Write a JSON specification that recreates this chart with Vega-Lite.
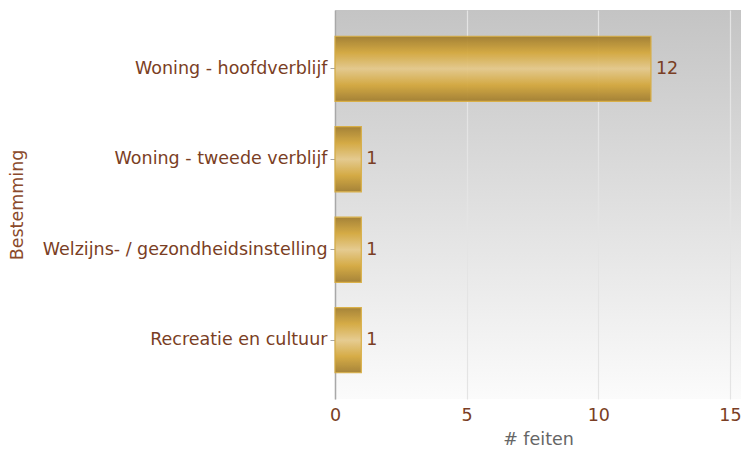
{
  "$schema": "https://vega.github.io/schema/vega-lite/v6.json",
  "width": 406,
  "height": 389,
  "autosize": {"type": "none"},
  "padding": {"left": 335, "top": 10, "right": 0, "bottom": 56},
  "background": "white",
  "config": {
    "view": {"stroke": null, "fill": {"gradient": "linear", "x1": 0, "y1": 0, "x2": 0, "y2": 1, "stops": [{"offset": 0, "color": "#c4c4c4"}, {"offset": 1, "color": "#fbfbfb"}]}},
    "font": "DejaVu Sans"
  },
  "data": {
    "values": [
      {"Bestemming": "Woning - hoofdverblijf", "feiten": 12},
      {"Bestemming": "Woning - tweede verblijf", "feiten": 1},
      {"Bestemming": "Welzijns- / gezondheidsinstelling", "feiten": 1},
      {"Bestemming": "Recreatie en cultuur", "feiten": 1}
    ]
  },
  "encoding": {
    "y": {
      "field": "Bestemming", "type": "nominal", "sort": null,
      "scale": {"paddingInner": 0.28, "paddingOuter": 0.29},
      "axis": {
        "title": "Bestemming", "titleFont": "DejaVu Sans", "titleFontSize": 17.5, "titleFontWeight": "normal", "titleColor": "#8b4a2b",
        "titleX": -318, "titleAngle": -90, "titleBaseline": "middle",
        "labelFont": "DejaVu Sans", "labelFontSize": 17.5, "labelColor": "#7a3e24", "labelPadding": 3,
        "domainColor": "#a8a8a8", "domainWidth": 1.5, "tickColor": "#a8a8a8", "tickSize": 5, "labelLimit": 400, "grid": false
      }
    },
    "x": {
      "field": "feiten", "type": "quantitative",
      "scale": {"domain": [0, 15.42], "nice": false},
      "axis": {
        "title": "# feiten", "titleFont": "DejaVu Sans", "titleFontSize": 17.5, "titleFontWeight": "normal", "titleColor": "#666666", "titlePadding": 7,
        "values": [0, 5, 10, 15], "labelFont": "DejaVu Sans", "labelFontSize": 17.5, "labelColor": "#7a3e24", "labelPadding": 7,
        "domain": false, "ticks": false, "gridColor": "#e4e4e4", "gridWidth": 1.2, "labelFlush": false
      }
    }
  },
  "layer": [
    {
      "mark": {
        "type": "bar", "opacity": 0.93, "stroke": "#d9ad3e", "strokeWidth": 1.2,
        "color": {"gradient": "linear", "x1": 0, "y1": 0, "x2": 0, "y2": 1, "stops": [
          {"offset": 0, "color": "#a17c2c"},
          {"offset": 0.25, "color": "#d4a73a"},
          {"offset": 0.5, "color": "#e5c98a"},
          {"offset": 0.75, "color": "#d4a73a"},
          {"offset": 1, "color": "#a17c2c"}
        ]}
      }
    },
    {
      "mark": {"type": "text", "align": "left", "dx": 5, "font": "DejaVu Sans", "fontSize": 17.5, "color": "#7a3e24"},
      "encoding": {"text": {"field": "feiten", "type": "quantitative"}}
    }
  ]
}
